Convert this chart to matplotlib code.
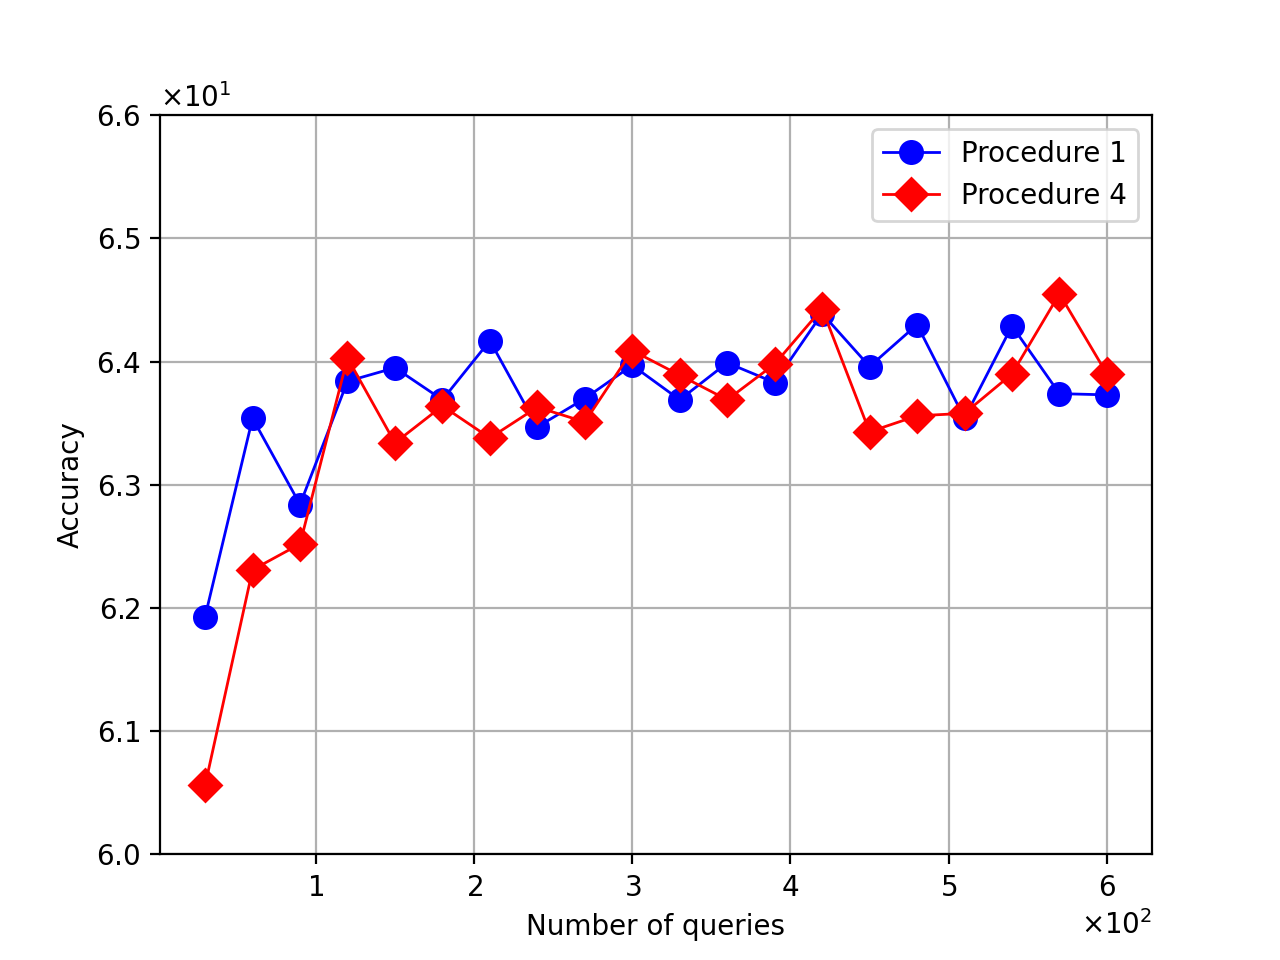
import numpy as np
import matplotlib
matplotlib.use("Agg")
import matplotlib.pyplot as plt

# número de consultas
queries = [30, 60, 90, 120, 150, 180, 210, 240, 270, 300,
           330, 360, 390, 420, 450, 480, 510, 540, 570, 600]

acc_proc1 = [61.93, 63.54, 62.84, 63.84, 63.95, 63.69, 64.17, 63.47, 63.70, 63.97,
             63.69, 63.99, 63.83, 64.39, 63.96, 64.30, 63.54, 64.29, 63.74, 63.73]

acc_proc4 = [60.56, 62.31, 62.52, 64.03, 63.34, 63.64, 63.38, 63.63, 63.51, 64.09,
             63.89, 63.69, 63.98, 64.43, 63.43, 63.56, 63.58, 63.90, 64.55, 63.90]

fig, ax = plt.subplots(figsize=(6.4, 4.8), dpi=200)
ax.plot(queries, acc_proc1, marker='o', color='blue', markersize=8, linewidth=1, label='Procedure 1')
ax.plot(queries, acc_proc4, marker='D', color='red', markersize=8, linewidth=1, label='Procedure 4')

ax.set_ylim(60, 66)
ax.set_xlabel('Number of queries')
ax.set_ylabel('Accuracy')
ax.ticklabel_format(style='sci', axis='both', scilimits=(0, 0), useMathText=True)
ax.grid(True)
ax.legend(loc='upper right')

fig.savefig('out.png', dpi=200)
